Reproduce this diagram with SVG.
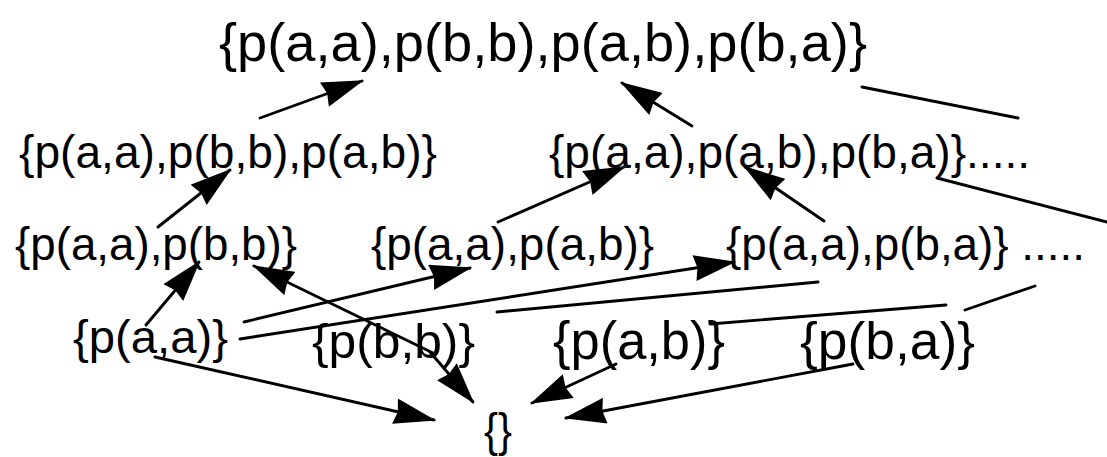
<svg xmlns="http://www.w3.org/2000/svg" width="1107" height="457" viewBox="0 0 1107 457">
<style>
text{font-family:"Liberation Sans",Arial,Helvetica,sans-serif;fill:#000;}
.c line{stroke:#000;stroke-width:2.9;fill:none;stroke-linecap:round;}
.c line.a{marker-end:url(#ah);}
</style>
<defs>
<marker id="ah" viewBox="0 0 42 26" refX="40" refY="13" markerWidth="42" markerHeight="26" markerUnits="userSpaceOnUse" orient="auto">
<path d="M0,0 L42,13 L0,26 L3,13 z" fill="#000"/>
</marker>
</defs>
<rect width="1107" height="457" fill="#fff"/>
<g id="n-all"><text x="219" y="61" font-size="54" textLength="648" lengthAdjust="spacingAndGlyphs">{p(a,a),p(b,b),p(a,b),p(b,a)}</text></g>
<g id="n-aa-bb-ab"><text x="19" y="168" font-size="46" textLength="418" lengthAdjust="spacingAndGlyphs">{p(a,a),p(b,b),p(a,b)}</text></g>
<g id="n-aa-ab-ba"><text x="549" y="168" font-size="46" textLength="481" lengthAdjust="spacingAndGlyphs">{p(a,a),p(a,b),p(b,a)}.....</text></g>
<g id="n-aa-bb"><text x="15" y="260" font-size="46" textLength="282" lengthAdjust="spacingAndGlyphs">{p(a,a),p(b,b)}</text></g>
<g id="n-aa-ab"><text x="371" y="260" font-size="46" textLength="283" lengthAdjust="spacingAndGlyphs">{p(a,a),p(a,b)}</text></g>
<g id="n-aa-ba"><text x="726" y="260" font-size="46" textLength="359" lengthAdjust="spacingAndGlyphs">{p(a,a),p(b,a)} .....</text></g>
<g id="n-aa"><text x="73" y="353" font-size="47" textLength="155" lengthAdjust="spacingAndGlyphs">{p(a,a)}</text></g>
<g id="n-bb"><text x="312" y="358" font-size="48" textLength="163" lengthAdjust="spacingAndGlyphs">{p(b,b)}</text></g>
<g id="n-ab"><text x="553" y="359" font-size="53" textLength="172" lengthAdjust="spacingAndGlyphs">{p(a,b)}</text></g>
<g id="n-ba"><text x="800" y="359" font-size="51" textLength="175" lengthAdjust="spacingAndGlyphs">{p(b,a)}</text></g>
<g id="n-empty"><text x="484" y="446" font-size="47" textLength="28" lengthAdjust="spacingAndGlyphs">{}</text></g>
<g id="connectors" class="c">
<line class="a" x1="260" y1="118" x2="362" y2="81"/>
<line class="a" x1="692" y1="126" x2="622" y2="83"/>
<line class="a" x1="158" y1="227" x2="230" y2="170"/>
<line class="a" x1="498" y1="222" x2="624" y2="167"/>
<line class="a" x1="824" y1="221" x2="745" y2="167"/>
<line class="a" x1="146" y1="325" x2="199" y2="262"/>
<line class="a" x1="433" y1="353" x2="254" y2="266"/>
<line class="a" x1="244" y1="322" x2="470" y2="268"/>
<line class="a" x1="240" y1="339" x2="734" y2="262"/>
<line class="a" x1="155" y1="357" x2="434" y2="420"/>
<line class="a" x1="430" y1="352" x2="473" y2="402"/>
<line class="a" x1="616" y1="364" x2="532" y2="403"/>
<line class="a" x1="853" y1="364" x2="566" y2="418"/>
<line x1="862" y1="87" x2="1018" y2="118"/>
<line x1="937" y1="178" x2="1107" y2="222"/>
<line x1="497" y1="312" x2="818" y2="282"/>
<line x1="710" y1="324" x2="946" y2="305"/>
<line x1="965" y1="310" x2="1035" y2="286"/>
</g>
</svg>
